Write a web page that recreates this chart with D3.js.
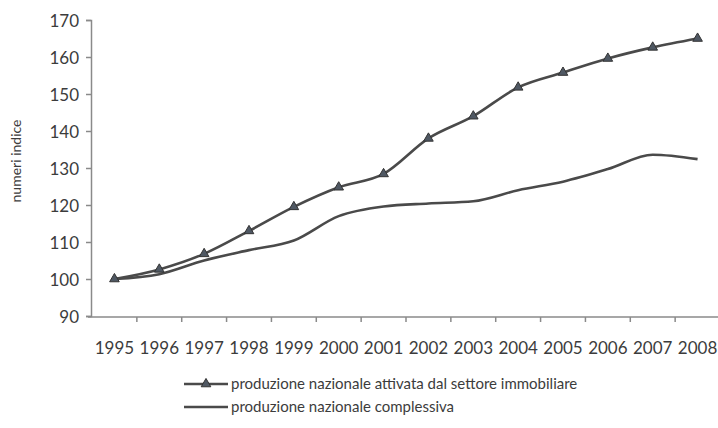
<!DOCTYPE html>
<html>
<head>
<meta charset="utf-8">
<script src="https://cdn.jsdelivr.net/npm/d3@7"></script>
<style>
  body { margin: 0; background: #fff; }
  text { font-family: Lato, "Open Sans", sans-serif; fill: #3c3c3c; }
</style>
</head>
<body>
<div class="chart"></div>
<script>
const years = [1995, 1996, 1997, 1998, 1999, 2000, 2001, 2002, 2003, 2004, 2005, 2006, 2007, 2008]
const immobiliare = [100, 102.6, 106.8, 113, 119.5, 124.8, 128.4, 138, 144, 151.8, 155.8, 159.6, 162.6, 165]
const complessiva = [100, 101.3, 105, 107.8, 110.4, 117, 119.6, 120.4, 121, 124, 126.3, 129.7, 133.6, 132.4]
const yTicks = [90, 100, 110, 120, 130, 140, 150, 160, 170]
const seriesNames = ['produzione nazionale attivata dal settore immobiliare', 'produzione nazionale complessiva']

const W = 718, H = 428
const ink = '#4a4a4a'

const svg = d3.select('.chart').append('svg')
    .attr('width', W)
    .attr('height', H)

const x = d3.scaleBand()
    .domain(years)
    .range([92, 720])

const y = d3.scaleLinear()
    .domain([90, 170])
    .range([316, 20])

// y axis
const yAxis = d3.axisLeft(y)
    .tickValues(yTicks)
    .tickSize(5)
    .tickPadding(7)
svg.append('g')
    .attr('class', 'y-axis')
    .attr('transform', 'translate(91,0)')
    .call(yAxis)

// x axis: labels centred in bands, ticks on band edges
const xAxis = d3.axisBottom(x)
    .tickSize(0)
    .tickPadding(25)
svg.append('g')
    .attr('class', 'x-axis')
    .attr('transform', 'translate(0,317)')
    .call(xAxis)

svg.select('.x-axis').selectAll('.edge')
    .data(years.slice(1))
    .join('line')
    .attr('class', 'edge')
    .attr('x1', d => x(d))
    .attr('x2', d => x(d))
    .attr('y1', 0)
    .attr('y2', 5)

svg.selectAll('.domain, .tick line, .edge')
    .attr('stroke', '#8a8a8a')
    .attr('stroke-width', 1.5)
svg.select('.x-axis .domain').attr('d', 'M88,0H718')
svg.selectAll('.tick text')
    .attr('font-size', 17)
    .attr('fill', '#3c3c3c')
svg.select('.y-axis').selectAll('.tick text').attr('dy', '0.36em')

// y label
svg.append('text')
    .attr('transform', 'translate(21,161) rotate(-90)')
    .attr('text-anchor', 'middle')
    .attr('font-size', 14)
    .text('numeri indice')

const line = d3.line()
    .x((d, i) => x(years[i]) + x.bandwidth() / 2)
    .y(d => y(d))
    .curve(d3.curveMonotoneX)

svg.append('path')
    .datum(complessiva)
    .attr('d', line)
    .attr('fill', 'none')
    .attr('stroke', ink)
    .attr('stroke-width', 2.6)

svg.append('path')
    .datum(immobiliare)
    .attr('d', line)
    .attr('fill', 'none')
    .attr('stroke', ink)
    .attr('stroke-width', 2.6)

const tri = d3.symbol().type(d3.symbolTriangle).size(40)
svg.selectAll('.tri')
    .data(immobiliare)
    .join('path')
    .attr('class', 'tri')
    .attr('d', tri)
    .attr('transform', (d, i) => `translate(${x(years[i]) + x.bandwidth() / 2},${y(d)})`)
    .attr('fill', '#4f5863')
    .attr('stroke', '#333')
    .attr('stroke-width', 1)

// legend
const legend = svg.append('g').attr('transform', 'translate(184,384)')
seriesNames.forEach((name, i) => {
    const g = legend.append('g').attr('transform', `translate(0,${i * 23})`)
    g.append('line')
        .attr('x1', 0).attr('x2', 44)
        .attr('stroke', ink)
        .attr('stroke-width', 2.6)
    if (i === 0) {
        g.append('path')
            .attr('d', tri)
            .attr('transform', 'translate(22,0)')
            .attr('fill', '#4f5863')
            .attr('stroke', '#333')
    }
    g.append('text')
        .attr('x', 47)
        .attr('dy', '0.35em')
        .attr('font-size', 15)
        .text(name)
})
</script>
</body>
</html>
